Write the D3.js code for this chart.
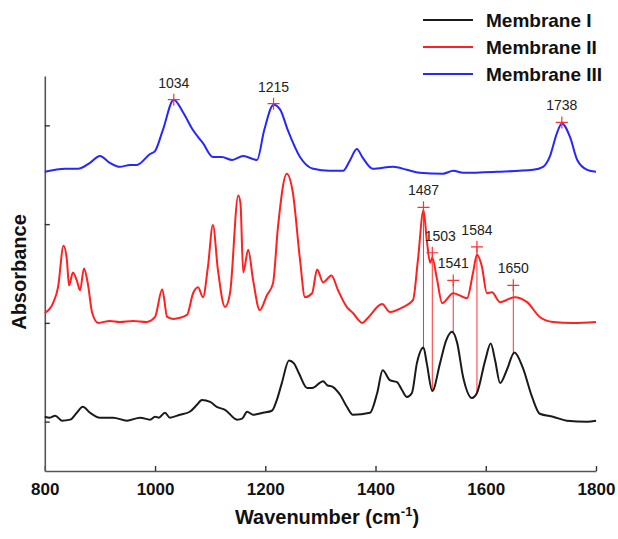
<!DOCTYPE html>
<html>
<head>
<meta charset="utf-8">
<script src="https://cdn.jsdelivr.net/npm/d3@7"></script>
<style>
  body { margin: 0; background: #fff; }
  svg { display: block; font-family: "Liberation Sans", Arial, sans-serif; }
</style>
</head>
<body>
<svg id="chart" width="618" height="539"></svg>
<script>
// Spectra (wavenumber in cm-1, absorbance in arbitrary offset units).
const membrane1Wn = [800, 809, 819, 831, 846, 858, 869, 882, 900, 924, 949, 973, 991, 1000, 1007, 1018, 1027,
  1045, 1063, 1076, 1085, 1100, 1112, 1127, 1149, 1158, 1167, 1178, 1196, 1212, 1221, 1230, 1243, 1252, 1261,
  1276, 1285, 1305, 1312, 1323, 1336, 1348, 1359, 1390, 1403, 1413, 1426, 1439, 1448, 1457, 1466, 1475, 1487,
  1493, 1503, 1517, 1528, 1539, 1548, 1559, 1575, 1584, 1599, 1609, 1617, 1626, 1638, 1652, 1667, 1684, 1698,
  1722, 1747, 1784, 1800];
const membrane1Abs = [0.55, 0.54, 0.56, 0.51, 0.52, 0.59, 0.65, 0.59, 0.54, 0.54, 0.51, 0.54, 0.52, 0.55, 0.54,
  0.59, 0.54, 0.57, 0.60, 0.67, 0.72, 0.70, 0.65, 0.62, 0.52, 0.53, 0.60, 0.57, 0.59, 0.61, 0.72, 0.89, 1.12,
  1.09, 0.99, 0.84, 0.84, 0.91, 0.87, 0.85, 0.77, 0.65, 0.57, 0.59, 0.79, 1.02, 0.92, 0.90, 0.82, 0.75, 0.79,
  1.09, 1.25, 1.09, 0.81, 1.09, 1.32, 1.41, 1.30, 0.95, 0.74, 0.79, 1.12, 1.29, 1.12, 0.89, 1.02, 1.20, 1.05,
  0.75, 0.58, 0.55, 0.51, 0.50, 0.51];

const membrane2Wn = [800, 815, 824, 834, 840, 844, 851, 858, 864, 871, 878, 886, 897, 918, 936, 960, 985, 1000,
  1013, 1022, 1033, 1058, 1069, 1078, 1087, 1096, 1105, 1114, 1127, 1136, 1151, 1155, 1160, 1169, 1178, 1190,
  1203, 1214, 1223, 1239, 1250, 1263, 1272, 1285, 1294, 1305, 1320, 1332, 1348, 1359, 1376, 1386, 1412, 1426,
  1450, 1468, 1477, 1487, 1493, 1499, 1503, 1511, 1521, 1541, 1566, 1577, 1584, 1593, 1602, 1611, 1626, 1652,
  1675, 1698, 1722, 1758, 1800];
const membrane2Abs = [1.60, 1.70, 1.86, 2.28, 2.14, 1.88, 2.01, 1.93, 1.83, 2.05, 1.90, 1.60, 1.50, 1.52, 1.51,
  1.52, 1.51, 1.56, 1.84, 1.56, 1.54, 1.58, 1.80, 1.86, 1.76, 2.07, 2.49, 2.04, 1.66, 1.80, 2.79, 2.71, 2.01,
  2.24, 1.93, 1.63, 1.78, 1.90, 2.47, 3.01, 2.82, 2.14, 1.76, 1.80, 2.04, 1.91, 1.98, 1.83, 1.66, 1.60, 1.50,
  1.55, 1.69, 1.61, 1.66, 1.73, 2.14, 2.64, 2.34, 2.11, 2.16, 1.96, 1.70, 1.80, 1.75, 2.01, 2.19, 2.07, 1.80,
  1.81, 1.71, 1.76, 1.71, 1.56, 1.51, 1.50, 1.51];

const membrane3Wn = [800, 837, 860, 882, 900, 918, 936, 955, 967, 991, 1000, 1014, 1034, 1051, 1069, 1087, 1105,
  1121, 1140, 1160, 1185, 1198, 1215, 1227, 1241, 1263, 1287, 1317, 1341, 1354, 1366, 1377, 1395, 1432, 1457,
  1480, 1522, 1541, 1559, 1620, 1686, 1704, 1716, 1729, 1738, 1753, 1766, 1784, 1800];
const membrane3Abs = [3.03, 3.06, 3.06, 3.12, 3.19, 3.12, 3.08, 3.10, 3.10, 3.21, 3.24, 3.45, 3.76, 3.63, 3.45,
  3.32, 3.18, 3.18, 3.15, 3.19, 3.15, 3.45, 3.71, 3.66, 3.45, 3.18, 3.06, 3.04, 3.04, 3.15, 3.26, 3.17, 3.06,
  3.08, 3.05, 3.02, 3.01, 3.04, 3.02, 3.03, 3.05, 3.08, 3.18, 3.42, 3.52, 3.38, 3.15, 3.05, 3.03];

const seriesNames = ["Membrane I", "Membrane II", "Membrane III"];
const seriesColors = ["#1a1a1a", "#ff2020", "#2626ff"];

// Marked peaks (label = wavenumber, marker height in absorbance units)
const peaks3Wn = [1034, 1215, 1738];
const peaks3Abs = [3.76, 3.72, 3.53];
const peaks2Wn = [1487, 1503, 1541, 1584, 1650];
const peaks2Abs = [2.67, 2.21, 1.93, 2.27, 1.88];

const xTicks = [800, 1000, 1200, 1400, 1600, 1800];
const yTicks = [0.5, 1.5, 2.5, 3.5];

const svg = d3.select("#chart");
const margin = { left: 44.8, right: 596, top: 76, bottom: 471 };

const x = d3.scaleLinear().domain([800, 1800]).range([margin.left, margin.right]);
const y = d3.scaleLinear().domain([0, 4]).range([margin.bottom, margin.top]);

const zip = (wn, ab) => wn.map((w, i) => [w, ab[i]]);
const series = [
  zip(membrane1Wn, membrane1Abs),
  zip(membrane2Wn, membrane2Abs),
  zip(membrane3Wn, membrane3Abs),
];

// axes (ticks point inward)
const xAxis = svg.append("g")
  .attr("transform", `translate(0,${margin.bottom})`)
  .call(d3.axisBottom(x).tickValues(xTicks).tickFormat(d3.format("d"))
    .tickSize(-5).tickSizeOuter(0).tickPadding(12));
const yAxis = svg.append("g")
  .attr("transform", `translate(${margin.left},0)`)
  .call(d3.axisLeft(y).tickValues(yTicks).tickSize(-5).tickSizeOuter(0).tickFormat(""));

[xAxis, yAxis].forEach((g) => {
  g.select(".domain").attr("stroke", "#555").attr("stroke-width", 1.6);
  g.selectAll(".tick line").attr("stroke", "#333").attr("stroke-width", 1.4);
});
xAxis.selectAll(".tick text")
  .attr("font-size", 17).attr("font-weight", "bold").attr("fill", "#111")
  .attr("font-family", "Liberation Sans, Arial, sans-serif");

// interpolate Membrane I so the drop lines end on the black curve
function lookup(data, w) {
  const i = d3.bisector((d) => d[0]).left(data, w);
  if (i <= 0) return data[0][1];
  if (i >= data.length) return data[data.length - 1][1];
  const [w0, a0] = data[i - 1];
  const [w1, a1] = data[i];
  return a0 + (a1 - a0) * (w - w0) / (w1 - w0);
}

const line = d3.line()
  .x((d) => x(d[0]))
  .y((d) => y(d[1]))
  .curve(d3.curveMonotoneX);

// drop lines from Membrane II peaks down to Membrane I
svg.append("g").selectAll("line")
  .data(peaks2Wn)
  .join("line")
  .attr("x1", (w) => x(w))
  .attr("x2", (w) => x(w))
  .attr("y1", (w, i) => y(peaks2Abs[i]))
  .attr("y2", (w) => y(lookup(series[0], w)))
  .attr("stroke", "#ff3030")
  .attr("stroke-width", 1);

svg.append("g").selectAll("path")
  .data(series)
  .join("path")
  .attr("d", line)
  .attr("fill", "none")
  .attr("stroke", (d, i) => seriesColors[i])
  .attr("stroke-width", 2)
  .attr("stroke-linejoin", "round");

// peak markers and labels
function drawPeaks(wns, abs) {
  const g = svg.append("g");
  const pts = wns.map((w, i) => ({ w, a: abs[i] }));
  g.selectAll("path")
    .data(pts)
    .join("path")
    .attr("d", (p) => {
      const cx = x(p.w), cy = y(p.a);
      return `M${cx - 6},${cy}H${cx + 6}M${cx},${cy - 6}V${cy + 6}`;
    })
    .attr("stroke", "#ff3030")
    .attr("stroke-width", 1.2);
  g.selectAll("text")
    .data(pts)
    .join("text")
    .attr("x", (p) => x(p.w) + (p.w === 1503 ? 8 : 0))
    .attr("y", (p) => y(p.a) - 12)
    .attr("text-anchor", "middle")
    .attr("font-size", 14)
    .attr("fill", "#222")
    .text((p) => p.w);
}
drawPeaks(peaks3Wn, peaks3Abs);
drawPeaks(peaks2Wn, peaks2Abs);

// legend
const legend = svg.append("g");
seriesNames.forEach((name, i) => {
  const ly = 20 + i * 27;
  legend.append("line")
    .attr("x1", 423).attr("x2", 473).attr("y1", ly).attr("y2", ly)
    .attr("stroke", seriesColors[i]).attr("stroke-width", 2);
  legend.append("text")
    .attr("x", 486).attr("y", ly + 6.5)
    .attr("font-size", 19).attr("font-weight", "bold").attr("fill", "#111")
    .text(name);
});

// axis titles
const xTitle = svg.append("text")
  .attr("x", 327).attr("y", 524)
  .attr("text-anchor", "middle")
  .attr("font-size", 20).attr("font-weight", "bold").attr("fill", "#111");
xTitle.append("tspan").text("Wavenumber (cm");
xTitle.append("tspan").attr("font-size", 13).attr("dy", -8).text("-1");
xTitle.append("tspan").attr("dy", 8).text(")");

svg.append("text")
  .attr("transform", "translate(26,272) rotate(-90)")
  .attr("text-anchor", "middle")
  .attr("font-size", 20).attr("font-weight", "bold").attr("fill", "#111")
  .text("Absorbance");
</script>
</body>
</html>
